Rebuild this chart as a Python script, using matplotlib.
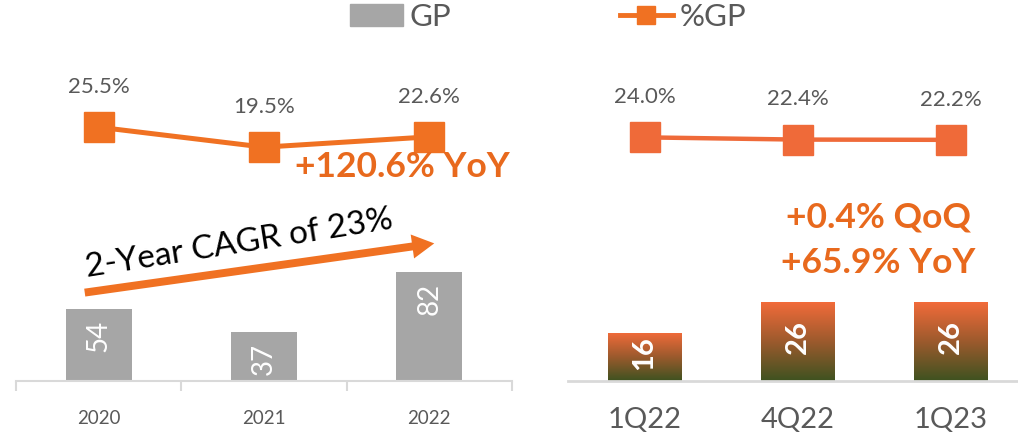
import matplotlib
matplotlib.use("Agg")
import matplotlib.pyplot as plt
import numpy as np
from matplotlib.colors import LinearSegmentedColormap
from matplotlib.lines import Line2D
from matplotlib.patches import Patch, FancyArrowPatch

# yearly gross profit and margin
years = ["2020", "2021", "2022"]
gp_year = [54, 37, 82]
pct_year = [25.5, 19.5, 22.6]

# quarterly gross profit and margin
quarters = ["1Q22", "4Q22", "1Q23"]
gp_qtr = [16, 26, 26]
pct_qtr = [24.0, 22.4, 22.2]

plt.rcParams["font.family"] = ["Lato", "DejaVu Sans"]
GREY = "#595959"
BAR_GREY = "#A6A6A6"
ORANGE = "#F07122"
ORANGE_Q = "#EF6A39"
AXIS = "#D9D9D9"

W, H = 1018, 433
fig = plt.figure(figsize=(W / 100, H / 100), dpi=100)


def clean(ax):
    for s in ("top", "left", "right"):
        ax.spines[s].set_visible(False)
    ax.set_yticks([])


# ---- yearly panel ----
ax1 = fig.add_axes([16 / W, 52 / H, 496 / W, 320 / H])
x1 = np.arange(len(years))
ax1.bar(x1, gp_year, width=0.40, color=BAR_GREY, zorder=2)
ax1.set_xlim(-0.5, 2.5)
ax1.set_ylim(0, 240)
clean(ax1)
ax1.spines["bottom"].set_color(AXIS)
ax1.spines["bottom"].set_linewidth(1.5)
ax1.set_xticks(np.arange(-0.5, 3, 1))
ax1.set_xticklabels([])
ax1.tick_params(axis="x", which="major", length=7, width=1.5, color=AXIS)
ax1.set_xticks(x1, minor=True)
ax1.set_xticklabels(years, minor=True)
ax1.tick_params(axis="x", which="minor", length=0, pad=21, labelsize=13.5, labelcolor=GREY)
for xi, v in zip(x1, gp_year):
    # label sits just inside the top of each bar
    ax1.annotate(str(v), (xi, v), xytext=(0, -8), textcoords="offset points",
                 rotation=90, ha="center", va="top", color="white",
                 fontsize=20)

ax1b = ax1.twinx()
ax1b.plot(x1, pct_year, color=ORANGE, lw=3.6, marker="s", ms=22, zorder=3)
ax1b.set_ylim(-50.8, 45.4)
clean(ax1b)
ax1b.spines["bottom"].set_visible(False)
for xi, v in zip(x1, pct_year):
    ax1b.annotate(f"{v:.1f}%", (xi, v), xytext=(0, 29), textcoords="offset points",
                  ha="center", va="center", color=GREY, fontsize=16)

# ---- quarterly panel ----
ax2 = fig.add_axes([568 / W, 52 / H, 450 / W, 320 / H])
x2 = np.arange(len(quarters))
bars2 = ax2.bar(x2, gp_qtr, width=0.48, color="none", zorder=2)
cmap = LinearSegmentedColormap.from_list("gp", ["#3E5220", "#9C5A2D", "#F26B3A"])
grad = np.linspace(0, 1, 256).reshape(-1, 1)
for b in bars2:
    x0, w, h = b.get_x(), b.get_width(), b.get_height()
    im = ax2.imshow(grad, extent=[x0, x0 + w, 0, h], origin="lower", cmap=cmap,
                    aspect="auto", zorder=2)
    im.set_clip_path(b)
ax2.set_xlim(-0.5, 2.441)
ax2.set_ylim(0, 105.7)
clean(ax2)
ax2.spines["bottom"].set_color(AXIS)
ax2.spines["bottom"].set_linewidth(2)
ax2.set_xticks(x2)
ax2.set_xticklabels(quarters)
ax2.tick_params(axis="x", length=0, pad=19, labelsize=21, labelcolor=GREY)
for xi, v in zip(x2, gp_qtr):
    ax2.annotate(str(v), (xi, v / 2), xytext=(0, 3), textcoords="offset points",
                 rotation=90, ha="center", va="center", color="white",
                 fontsize=21, fontweight="bold")

ax2b = ax2.twinx()
ax2b.plot(x2, pct_qtr, color=ORANGE_Q, lw=3.2, marker="s", ms=22, zorder=3)
ax2b.set_ylim(-151.5, 79)
clean(ax2b)
ax2b.spines["bottom"].set_visible(False)
for xi, v in zip(x2, pct_qtr):
    ax2b.annotate(f"{v:.1f}%", (xi, v), xytext=(0, 29), textcoords="offset points",
                  ha="center", va="center", color=GREY, fontsize=16)

# ---- legend ----
handles = [Patch(color=BAR_GREY),
           Line2D([], [], color=ORANGE, lw=3.5, marker="s", ms=13)]
fig.legend(handles, ["GP", "%GP"], loc="upper left", bbox_to_anchor=(350 / W, 1 - 3 / H),
           ncol=2, frameon=False, fontsize=22.5, handlelength=1.7, handletextpad=0.2,
           columnspacing=5.4, borderpad=0, borderaxespad=0, labelcolor=GREY)

# ---- callouts ----
fig.text(402 / W, 1 - 167 / H, "+120.6% YoY", ha="center", va="center",
         fontsize=25.5, fontweight="bold", color="#E8691D")
fig.text(878 / W, 1 - 218 / H, "+0.4% QoQ", ha="center", va="center",
         fontsize=25.5, fontweight="bold", color="#E8691D")
fig.text(878 / W, 1 - 263 / H, "+65.9% YoY", ha="center", va="center",
         fontsize=25.5, fontweight="bold", color="#E8691D")

fig.text(239 / W, 1 - 244 / H, "2-Year CAGR of 23%", rotation=9, rotation_mode="anchor",
         ha="center", va="center", fontsize=24, color="black")
fig.add_artist(FancyArrowPatch((82 / W, 1 - 293 / H), (437 / W, 1 - 243 / H),
                               transform=fig.transFigure,
                               arrowstyle="simple,head_length=0.53,head_width=0.58,tail_width=0.19",
                               mutation_scale=30, color=ORANGE, lw=0))

fig.savefig("out.png", dpi=100)
